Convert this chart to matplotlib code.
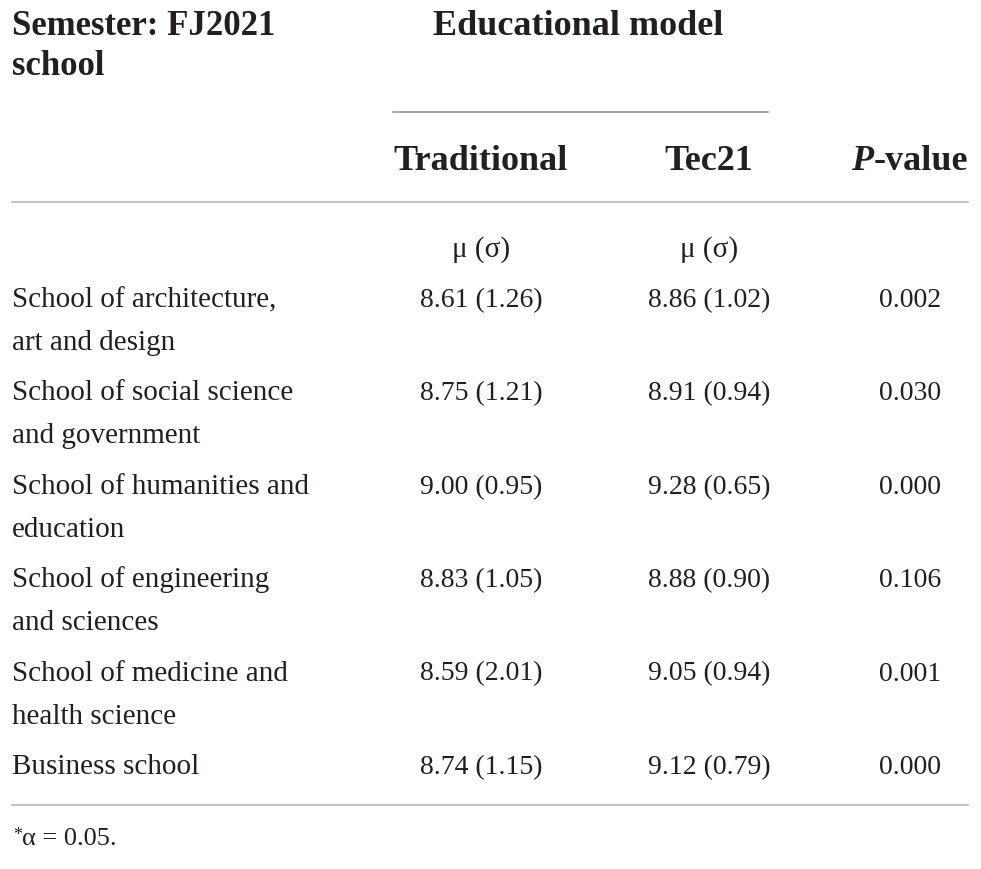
import matplotlib
matplotlib.use("Agg")
import matplotlib.pyplot as plt
from matplotlib.lines import Line2D

# ---- data ----
schools = [
    "School of architecture,\nart and design",
    "School of social science\nand government",
    "School of humanities and\neducation",
    "School of engineering\nand sciences",
    "School of medicine and\nhealth science",
    "Business school",
]
trad_mean = [8.61, 8.75, 9.00, 8.83, 8.59, 8.74]
trad_sd = [1.26, 1.21, 0.95, 1.05, 2.01, 1.15]
tec_mean = [8.86, 8.91, 9.28, 8.88, 9.05, 9.12]
tec_sd = [1.02, 0.94, 0.65, 0.90, 0.94, 0.79]
p_values = [0.002, 0.030, 0.000, 0.106, 0.001, 0.000]

header_left = "Semester: FJ2021\nschool"
header_group = "Educational model"
col_headers = ["Traditional", "Tec21"]
stat_label = "\u03bc (\u03c3)"
footnote = "\u03b1 = 0.05."

W, H = 981, 870
fig = plt.figure(figsize=(W / 100, H / 100), dpi=100)
fig.patch.set_facecolor("white")

SERIF = ["Liberation Serif", "DejaVu Serif"]
TXT = "#231f20"


def T(x, y, s, **kw):
    kw.setdefault("family", SERIF)
    kw.setdefault("color", TXT)
    kw.setdefault("va", "baseline")
    return fig.text(x / W, 1 - y / H, s, **kw)


def HL(x0, x1, y, color="#b0b0b0", lw=1.1):
    fig.add_artist(Line2D([x0 / W, x1 / W], [1 - y / H, 1 - y / H],
                          transform=fig.transFigure, color=color, lw=lw))


HSZ = 26
BSZ = 21
VSZ = 20

# headers
l1, l2 = header_left.split("\n")
T(12, 35, l1, fontsize=25, fontweight="bold")
T(12, 75, l2, fontsize=25, fontweight="bold")
T(433, 35, header_group, fontsize=HSZ, fontweight="bold")
HL(393, 768, 113, color="#8c8c8c")
col_x = [481, 709]
for cx, h in zip(col_x, col_headers):
    T(cx, 170, h, fontsize=HSZ, fontweight="bold", ha="center")

rend = fig.canvas.get_renderer()
tv = T(968, 170, "-value", fontsize=HSZ, fontweight="bold", ha="right")
bb = tv.get_window_extent(renderer=rend)
T(bb.x0, 170, "P", fontsize=HSZ, fontweight="bold", style="italic", ha="right")
HL(12, 968, 203)

for cx in col_x:
    T(cx, 257, stat_label, fontsize=BSZ, ha="center")

# body rows
row_base0 = 307
row_step = 93.4
p_x = 910
for i, name in enumerate(schools):
    yb = row_base0 + i * row_step
    for k, line in enumerate(name.split("\n")):
        T(12, yb + k * 43, line, fontsize=BSZ)
    T(col_x[0], yb, f"{trad_mean[i]:.2f} ({trad_sd[i]:.2f})", fontsize=VSZ, ha="center")
    T(col_x[1], yb, f"{tec_mean[i]:.2f} ({tec_sd[i]:.2f})", fontsize=VSZ, ha="center")
    T(p_x, yb, f"{p_values[i]:.3f}", fontsize=VSZ, ha="center")

HL(12, 968, 806)
T(13, 840, "*", fontsize=13)
T(22, 845, footnote, fontsize=19)

fig.savefig("out.png", dpi=100, facecolor="white")
